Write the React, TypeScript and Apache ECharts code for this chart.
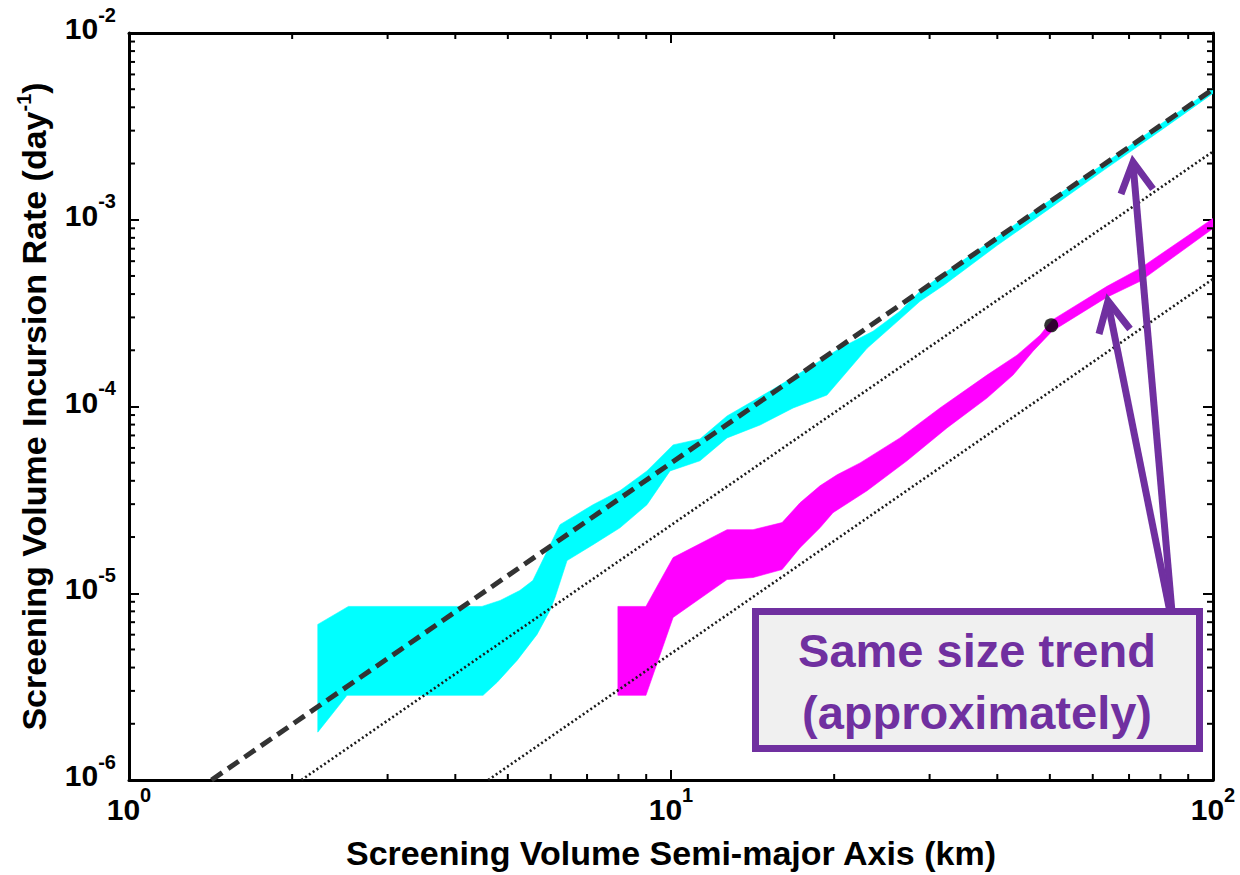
import React, { useEffect, useRef } from "react";
import * as echarts from "echarts";

// ---- tick values ----
const X_MIN = 1;
const X_MAX = 100;
const Y_MIN = 1e-6;
const Y_MAX = 1e-2;
const X_MINOR = [2, 3, 4, 5, 6, 7, 8, 9, 20, 30, 40, 50, 60, 70, 80, 90];
const Y_MINOR = [
  2e-6, 3e-6, 4e-6, 5e-6, 6e-6, 7e-6, 8e-6, 9e-6,
  2e-5, 3e-5, 4e-5, 5e-5, 6e-5, 7e-5, 8e-5, 9e-5,
  2e-4, 3e-4, 4e-4, 5e-4, 6e-4, 7e-4, 8e-4, 9e-4,
  2e-3, 3e-3, 4e-3, 5e-3, 6e-3, 7e-3, 8e-3, 9e-3,
];

// ---- cyan band (upper / lower edge) ----
const CYAN_UPPER: [number, number][] = [
  [2.23, 6.81e-6], [2.54, 8.5e-6], [4.48, 8.5e-6], [4.84, 9.15e-6], [5.26, 1.034e-5],
  [5.56, 1.17e-5], [6.24, 2.33e-5], [7.18, 2.98e-5], [8.05, 3.54e-5], [9.03, 4.52e-5],
  [10.09, 6.23e-5], [11.31, 6.7e-5], [12.69, 8.9e-5], [14.17, 1.07e-4], [15.89, 1.302e-4],
  [18.28, 1.665e-4], [20.5, 2.05e-4], [23.59, 2.53e-4], [26.45, 3.24e-4], [28.8, 4.14e-4],
  [32, 5.2e-4], [40, 8.1e-4], [50, 1.27e-3], [63, 2.0e-3], [80, 3.25e-3], [100, 5.05e-3],
];
const CYAN_LOWER: [number, number][] = [
  [2.23, 1.804e-6], [2.525, 2.84e-6], [4.5, 2.84e-6], [4.78, 3.34e-6], [5.2, 4.37e-6],
  [5.66, 6.02e-6], [5.98, 8.09e-6], [6.11, 9.49e-6], [6.43, 1.496e-5], [7.18, 1.82e-5],
  [8.05, 2.24e-5], [9.03, 2.98e-5], [9.96, 4.52e-5], [11.31, 5.12e-5], [12.69, 6.79e-5],
  [14.6, 7.96e-5], [16.8, 9.82e-5], [19.4, 1.152e-4], [23.0, 2.05e-4], [25.68, 2.72e-4],
  [28.8, 3.66e-4], [32, 4.5e-4], [40, 7.3e-4], [50, 1.15e-3], [63, 1.85e-3], [80, 3.0e-3],
  [100, 4.75e-3],
];

// ---- magenta band (upper / lower edge) ----
const MAGENTA_UPPER: [number, number][] = [
  [7.98, 8.5e-6], [8.99, 8.5e-6], [10.09, 1.552e-5], [12.69, 2.19e-5], [14.17, 2.19e-5],
  [16.03, 2.39e-5], [17.3, 3.05e-5], [18.83, 3.76e-5], [20.25, 4.31e-5], [22.33, 4.99e-5],
  [26.45, 6.79e-5], [31.35, 9.82e-5], [38.28, 1.473e-4], [43.49, 1.884e-4], [47.96, 2.41e-4],
  [50.47, 2.9e-4], [63.74, 4.4e-4], [73.34, 5.49e-4], [100, 1.016e-3],
];
const MAGENTA_LOWER: [number, number][] = [
  [7.98, 2.84e-6], [8.99, 2.84e-6], [10.09, 7.42e-6], [12.69, 1.184e-5], [14.17, 1.214e-5],
  [16.03, 1.339e-5], [17.3, 1.754e-5], [18.83, 2.24e-5], [19.9, 2.7e-5], [23.0, 3.54e-5],
  [27.25, 5.12e-5], [32.3, 7.68e-5], [38.28, 1.11e-4], [42.76, 1.473e-4], [46.55, 1.978e-4],
  [50.47, 2.53e-4], [63.74, 3.85e-4], [73.34, 4.68e-4], [100, 8.98e-4],
];

// ---- reference lines ----
const DASHED_FIT: [number, number][] = [[1.42, 1e-6], [100, 5e-3]];
const DOTTED_A: [number, number][] = [[2.08, 1e-6], [100, 2.32e-3]];
const DOTTED_B: [number, number][] = [[4.6, 1e-6], [100, 4.82e-4]];
const MARKER: [number, number][] = [[50.3, 2.72e-4]];

const FONT = '"Liberation Sans", Arial, sans-serif';
const PURPLE = "#7030a0";

function bandSeries(name: string, upper: [number, number][], lower: [number, number][], color: string) {
  const poly = [...upper, ...[...lower].reverse()];
  return {
    type: "custom",
    name,
    data: poly,
    encode: { x: 0, y: 1 },
    silent: true,
    clip: true,
    z: 1,
    renderItem: (params: any, api: any) => {
      if (params.dataIndex !== 0) return null;
      const pts = poly.map((p) => api.coord(p));
      return {
        type: "polygon",
        shape: { points: pts },
        style: { fill: color, stroke: color, lineWidth: 0.6 },
      };
    },
  };
}

function minorTickSeries(values: number[], isX: boolean) {
  return {
    type: "custom",
    data: values.map((v) => (isX ? [v, Y_MIN] : [X_MIN, v])),
    encode: { x: 0, y: 1 },
    silent: true,
    clip: false,
    z: 6,
    renderItem: (params: any, api: any) => {
      const cs = params.coordSys;
      const p = api.coord([api.value(0), api.value(1)]);
      const L = 6;
      const st = { stroke: "#000", lineWidth: 2 };
      if (isX) {
        const b = cs.y + cs.height;
        const t = cs.y;
        return {
          type: "group",
          children: [
            { type: "line", shape: { x1: p[0], y1: b, x2: p[0], y2: b - L }, style: st },
            { type: "line", shape: { x1: p[0], y1: t, x2: p[0], y2: t + L }, style: st },
          ],
        };
      }
      const l = cs.x;
      const r = cs.x + cs.width;
      return {
        type: "group",
        children: [
          { type: "line", shape: { x1: l, y1: p[1], x2: l + L, y2: p[1] }, style: st },
          { type: "line", shape: { x1: r, y1: p[1], x2: r - L, y2: p[1] }, style: st },
        ],
      };
    },
  };
}

const powLabel = (v: number) => `{b|10}{e|${Math.round(Math.log10(v))}}`;
const labelRich = {
  b: { fontSize: 30, lineHeight: 30, fontWeight: "bold", fontFamily: FONT, color: "#000", verticalAlign: "bottom" },
  e: { fontSize: 20, lineHeight: 20, fontWeight: "bold", fontFamily: FONT, color: "#000", verticalAlign: "bottom", padding: [0, 0, 19, 0] },
};

export default function App() {
  const ref = useRef<HTMLDivElement>(null);
  useEffect(() => {
    document.body.style.margin = "0";
    if (!ref.current) return;
    const chart = echarts.init(ref.current, undefined, { renderer: "svg" });
    const axisLine = { show: true, onZero: false, lineStyle: { color: "#000", width: 3 } };
    const axisTick = { show: true, inside: true, length: 10, lineStyle: { color: "#000", width: 2 } };
    const option: any = {
      animation: false,
      backgroundColor: "#fff",
      grid: { left: 129, right: 27, top: 33, bottom: 92, containLabel: false },
      xAxis: [
        {
          type: "log", logBase: 10, min: X_MIN, max: X_MAX, position: "bottom",
          axisLine, axisTick, splitLine: { show: false }, minorTick: { show: false },
          axisLabel: {
            show: true, margin: 14, formatter: powLabel, rich: labelRich,
            fontSize: 30, fontWeight: "bold", fontFamily: FONT, color: "#000",
            showMinLabel: true, showMaxLabel: true, hideOverlap: false,
          },
          name: "Screening Volume Semi-major Axis (km)",
          nameLocation: "middle", nameGap: 56,
          nameTextStyle: { fontSize: 34, fontWeight: "bold", fontFamily: FONT, color: "#000" },
        },
        {
          type: "log", logBase: 10, min: X_MIN, max: X_MAX, position: "top",
          axisLine, axisTick, splitLine: { show: false }, axisLabel: { show: false },
        },
      ],
      yAxis: [
        {
          type: "log", logBase: 10, min: Y_MIN, max: Y_MAX, position: "left",
          axisLine, axisTick, splitLine: { show: false }, minorTick: { show: false },
          axisLabel: {
            show: true, margin: 13, formatter: powLabel, rich: labelRich, padding: [0, 0, 9, 0],
            fontSize: 30, fontWeight: "bold", fontFamily: FONT, color: "#000",
            showMinLabel: true, showMaxLabel: true, hideOverlap: false,
          },
          name: "{t|Screening Volume Incursion Rate (day}{s|-1}{t|)}",
          nameLocation: "middle", nameGap: 78, nameRotate: 90,
          nameTextStyle: {
            fontSize: 34, fontWeight: "bold", fontFamily: FONT, color: "#000",
            rich: {
              t: { fontSize: 34, lineHeight: 34, fontWeight: "bold", fontFamily: FONT, color: "#000", verticalAlign: "bottom" },
              s: { fontSize: 20, lineHeight: 20, fontWeight: "bold", fontFamily: FONT, color: "#000", verticalAlign: "bottom", padding: [0, 0, 17, 0] },
            },
          },
        },
        {
          type: "log", logBase: 10, min: Y_MIN, max: Y_MAX, position: "right",
          axisLine, axisTick, splitLine: { show: false }, axisLabel: { show: false },
        },
      ],
      series: [
        bandSeries("cyan band", CYAN_UPPER, CYAN_LOWER, "#00ffff"),
        bandSeries("magenta band", MAGENTA_UPPER, MAGENTA_LOWER, "#ff00ff"),
        {
          type: "line", name: "dotted A", data: DOTTED_A, symbol: "none", z: 3, silent: true,
          lineStyle: { color: "#1a1a1a", width: 2.6, type: [2, 2.6] },
        },
        {
          type: "line", name: "dotted B", data: DOTTED_B, symbol: "none", z: 3, silent: true,
          lineStyle: { color: "#1a1a1a", width: 2.6, type: [2, 2.6] },
        },
        {
          type: "line", name: "fit", data: DASHED_FIT, symbol: "none", z: 4, silent: true,
          lineStyle: { color: "#333", width: 5, type: [13, 7] },
        },
        {
          type: "scatter", name: "marker", data: MARKER, symbol: "circle", symbolSize: 14, z: 5,
          itemStyle: { color: "#000" }, silent: true,
        },
        minorTickSeries(X_MINOR, true),
        minorTickSeries(Y_MINOR, false),
      ],
      graphic: [
        { type: "line", z: 100, shape: { x1: 1172, y1: 612, x2: 1133, y2: 164 }, style: { stroke: PURPLE, lineWidth: 7 } },
        { type: "polyline", z: 100, shape: { points: [[1121, 194], [1133, 162], [1153, 189]] }, style: { stroke: PURPLE, lineWidth: 7, fill: "none", lineJoin: "miter" } },
        { type: "line", z: 100, shape: { x1: 1170, y1: 612, x2: 1108, y2: 303 }, style: { stroke: PURPLE, lineWidth: 7 } },
        { type: "polyline", z: 100, shape: { points: [[1099, 334], [1108, 301], [1130, 329]] }, style: { stroke: PURPLE, lineWidth: 7, fill: "none", lineJoin: "miter" } },
        { type: "rect", z: 101, shape: { x: 755.5, y: 611.5, width: 444, height: 137 }, style: { fill: "#f0f0f0", stroke: PURPLE, lineWidth: 7 } },
        {
          type: "text", z: 102, x: 977, y: 650,
          style: { text: "Same size trend", fill: PURPLE, fontSize: 47, fontWeight: "bold", fontFamily: FONT, align: "center", verticalAlign: "middle" },
        },
        {
          type: "text", z: 102, x: 977, y: 712,
          style: { text: "(approximately)", fill: PURPLE, fontSize: 47, fontWeight: "bold", fontFamily: FONT, align: "center", verticalAlign: "middle" },
        },
      ],
    };
    chart.setOption(option);
    return () => chart.dispose();
  }, []);
  return <div ref={ref} style={{ width: 1240, height: 875 }} />;
}
